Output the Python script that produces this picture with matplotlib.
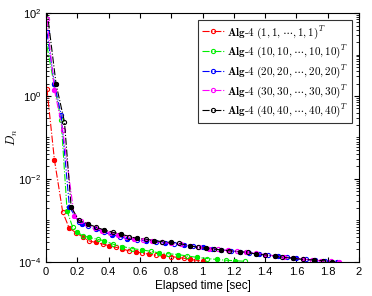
import numpy as np
import matplotlib.pyplot as plt
from matplotlib.ticker import LogLocator, FixedLocator, NullFormatter

plt.rcParams["mathtext.fontset"] = "cm"
plt.rcParams["font.family"] = ["Liberation Sans", "DejaVu Sans"]

# =========================
# data
# =========================

t_1 = [0.005, 0.053, 0.106, 0.147, 0.19, 0.234, 0.276, 0.318, 0.361, 0.403, 0.446,
       0.488, 0.53, 0.573, 0.616, 0.658, 0.70, 0.75, 0.80, 0.84, 0.88, 0.92, 0.96, 1.0]
d_1 = [1.5, 2.9e-2, 1.6e-3, 6.6e-4, 5.1e-4, 4.0e-4, 3.2e-4, 2.95e-4, 2.7e-4, 2.45e-4,
       2.25e-4, 2.05e-4, 1.85e-4, 1.78e-4, 1.62e-4, 1.55e-4, 1.45e-4, 1.38e-4, 1.35e-4,
       1.29e-4, 1.23e-4, 1.15e-4, 1.10e-4, 1.05e-4]

t_10 = [0.005, 0.05, 0.096, 0.134, 0.17, 0.20, 0.233, 0.276, 0.33, 0.37, 0.425, 0.488,
        0.55, 0.616, 0.67, 0.72, 0.78, 0.84, 0.90, 0.966, 1.03, 1.09, 1.15, 1.21, 1.27]
d_10 = [16, 2.0, 0.26, 1.7e-3, 6.8e-4, 5.3e-4, 4.3e-4, 3.9e-4, 3.5e-4, 3.25e-4, 2.7e-4,
        2.35e-4, 2.1e-4, 1.95e-4, 1.8e-4, 1.66e-4, 1.58e-4, 1.51e-4, 1.40e-4, 1.29e-4,
        1.21e-4, 1.15e-4, 1.10e-4, 1.07e-4, 1.04e-4]

t_20 = [0.005, 0.053, 0.096, 0.149, 0.21, 0.23, 0.27, 0.32, 0.37, 0.42, 0.47, 0.52, 0.58,
        0.64, 0.70, 0.76, 0.82, 0.88, 0.94, 1.00, 1.06, 1.12, 1.18, 1.24, 1.30, 1.36,
        1.42, 1.48, 1.54, 1.60, 1.66, 1.72, 1.78, 1.86]
d_20 = [34, 2.0, 0.35, 2.1e-3, 9.0e-4, 8.3e-4, 7.3e-4, 6.1e-4, 5.2e-4, 4.5e-4, 4.1e-4,
        3.6e-4, 3.4e-4, 3.2e-4, 3.0e-4, 2.85e-4, 2.7e-4, 2.55e-4, 2.4e-4, 2.25e-4,
        2.1e-4, 1.95e-4, 1.85e-4, 1.75e-4, 1.65e-4, 1.55e-4, 1.47e-4, 1.38e-4, 1.30e-4,
        1.22e-4, 1.15e-4, 1.10e-4, 1.05e-4, 1.0e-4]

t_30 = [0.005, 0.053, 0.106, 0.18, 0.22, 0.26, 0.31, 0.36, 0.41, 0.46, 0.51, 0.56, 0.62,
        0.68, 0.74, 0.80, 0.86, 0.92, 0.98, 1.04, 1.10, 1.16, 1.22, 1.28, 1.34, 1.40,
        1.46, 1.52, 1.58, 1.64, 1.70, 1.76, 1.82, 1.87]
d_30 = [70, 1.4, 0.15, 1.25e-3, 9.5e-4, 8.0e-4, 6.7e-4, 5.7e-4, 5.0e-4, 4.5e-4, 4.0e-4,
        3.6e-4, 3.4e-4, 3.15e-4, 2.95e-4, 2.8e-4, 2.65e-4, 2.45e-4, 2.25e-4, 2.1e-4,
        2.0e-4, 1.9e-4, 1.8e-4, 1.7e-4, 1.6e-4, 1.5e-4, 1.4e-4, 1.32e-4, 1.25e-4,
        1.17e-4, 1.12e-4, 1.07e-4, 1.03e-4, 1.0e-4]

t_40 = [0.005, 0.064, 0.117, 0.16, 0.21, 0.265, 0.32, 0.37, 0.425, 0.48, 0.53, 0.58,
        0.64, 0.69, 0.74, 0.80, 0.85, 0.92, 0.97, 1.02, 1.07, 1.12, 1.17, 1.24, 1.29,
        1.34, 1.40, 1.46, 1.51, 1.58, 1.64, 1.71, 1.77, 1.83]
d_40 = [120, 1.9, 0.24, 2.1e-3, 1.0e-3, 8.3e-4, 6.9e-4, 5.9e-4, 5.2e-4, 4.7e-4, 4.1e-4,
        3.7e-4, 3.55e-4, 3.25e-4, 3.1e-4, 2.95e-4, 2.8e-4, 2.45e-4, 2.25e-4, 2.15e-4,
        2.05e-4, 1.95e-4, 1.86e-4, 1.78e-4, 1.70e-4, 1.55e-4, 1.48e-4, 1.38e-4, 1.29e-4,
        1.23e-4, 1.15e-4, 1.12e-4, 1.07e-4, 1.02e-4]

labels = [
    r"$\mathbf{Alg\text{-}4}\ (1,1,\cdots,1,1)^T$",
    r"$\mathbf{Alg\text{-}4}\ (10,10,\cdots,10,10)^T$",
    r"$\mathbf{Alg\text{-}4}\ (20,20,\cdots,20,20)^T$",
    r"$\mathbf{Alg\text{-}4}\ (30,30,\cdots,30,30)^T$",
    r"$\mathbf{Alg\text{-}4}\ (40,40,\cdots,40,40)^T$",
]
colors = ["red", "#00ee00", "blue", "magenta", "black"]

series = [(t_1, d_1), (t_10, d_10), (t_20, d_20), (t_30, d_30), (t_40, d_40)]

# =========================
# plot
# =========================

fig = plt.figure(figsize=(3.72, 2.96), dpi=100)
ax = fig.add_axes([0.124, 0.115, 0.841, 0.841])

for (t, d), c, lab in zip(series, colors, labels):
    ax.plot(t, d, linestyle="-.", color=c, linewidth=0.8,
            marker="o", markersize=3, markerfacecolor="none",
            markeredgewidth=0.8, label=lab)
    # filled markers on every other point
    ax.plot(t[1::2], d[1::2], linestyle="none", color=c,
            marker="o", markersize=2.6)

ax.set_yscale("log")
ax.set_xlim(0, 2)
ax.set_ylim(1e-4, 1e2)

ax.set_xticks(np.arange(0, 2.01, 0.2))
ax.set_xticklabels(["0", "0.2", "0.4", "0.6", "0.8", "1", "1.2", "1.4", "1.6", "1.8", "2"])
ax.yaxis.set_major_locator(FixedLocator([1e-4, 1e-2, 1e0, 1e2]))
ax.yaxis.set_minor_locator(LogLocator(base=10, subs=np.arange(1, 10), numticks=20))
ax.yaxis.set_minor_formatter(NullFormatter())

ax.tick_params(which="both", direction="in", top=True, right=True, labelsize=8)
ax.tick_params(which="major", length=3.5)
ax.tick_params(which="minor", length=2)

ax.set_xlabel("Elapsed time [sec]", fontsize=8.5, labelpad=2)
ax.set_ylabel(r"$D_n$", fontsize=9)
ax.yaxis.set_label_coords(-0.085, 0.5)

leg = ax.legend(loc="upper right", fontsize=8, frameon=True, fancybox=False,
                edgecolor="black", handlelength=2.0, handletextpad=0.3,
                borderpad=0.35, labelspacing=0.25, borderaxespad=0.6)
leg.get_frame().set_linewidth(0.8)

fig.savefig("out.png", dpi=100)
